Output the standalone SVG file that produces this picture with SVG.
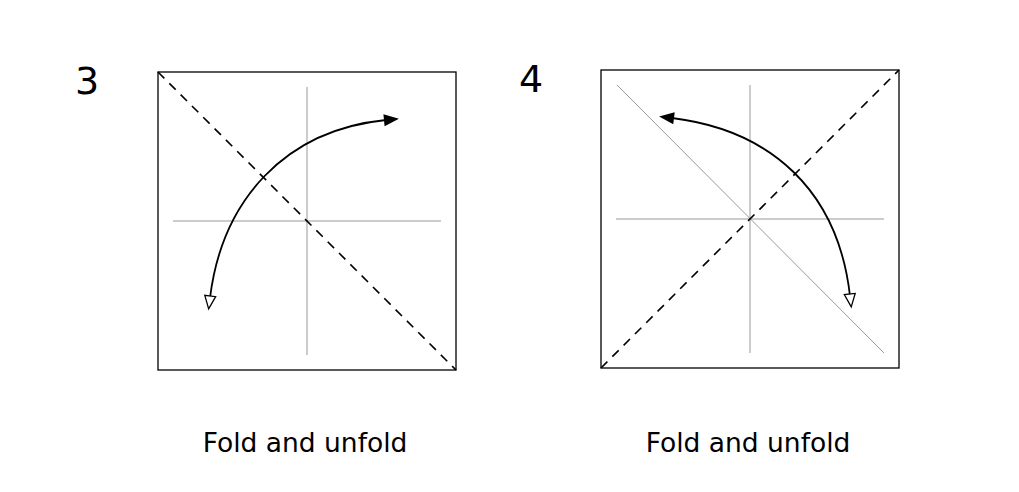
<svg xmlns="http://www.w3.org/2000/svg" width="1019" height="492" viewBox="0 0 1019 492">
<style>
.sq{fill:none;stroke:#000;stroke-width:1.3}
.g{stroke:#999;stroke-width:1}
.d{stroke:#000;stroke-width:1.6;stroke-dasharray:9,7}
.c{fill:none;stroke:#000;stroke-width:1.8;marker-end:url(#fa);marker-start:url(#oa)}
text{font-family:"DejaVu Sans",sans-serif;fill:#000}
.n{font-size:38px}
.l{font-size:26.5px;text-anchor:middle}
</style>
<defs>
<marker id="fa" refX="2" refY="6" markerWidth="16" markerHeight="12" markerUnits="userSpaceOnUse" orient="auto" style="overflow:visible">
<path d="M0,0 L15,6 L0,12 Z" fill="#000"/>
</marker>
<marker id="oa" refX="2" refY="5.5" markerWidth="14" markerHeight="11" markerUnits="userSpaceOnUse" orient="auto-start-reverse" style="overflow:visible">
<path d="M0,0 L13,5.5 L0,11 Z" fill="#fff" stroke="#000" stroke-width="1.3"/>
</marker>
</defs>
<g id="step3">
<text class="n" x="75" y="94">3</text>
<rect class="sq" x="158" y="72" width="298" height="298"/>
<line class="g" x1="173" y1="221" x2="441" y2="221"/>
<line class="g" x1="307" y1="87" x2="307" y2="355"/>
<line class="d" x1="158" y1="72" x2="456" y2="370"/>
<text class="l" x="305" y="452">Fold and unfold</text>
</g>
<g id="step4">
<text class="n" x="519" y="92">4</text>
<rect class="sq" x="601" y="70" width="298" height="298"/>
<line class="g" x1="616" y1="219" x2="884" y2="219"/>
<line class="g" x1="750" y1="85" x2="750" y2="353"/>
<line class="g" x1="617" y1="85" x2="884" y2="353"/>
<line class="d" x1="601" y1="368" x2="899" y2="70"/>
<text class="l" x="748" y="452">Fold and unfold</text>
</g>
<g id="connectors">
<path class="c" d="M210,298 C222,200 285,130 386,120"/>
<path class="c" d="M850,296 C838,190 770,130 672,118"/>
</g>
</svg>
